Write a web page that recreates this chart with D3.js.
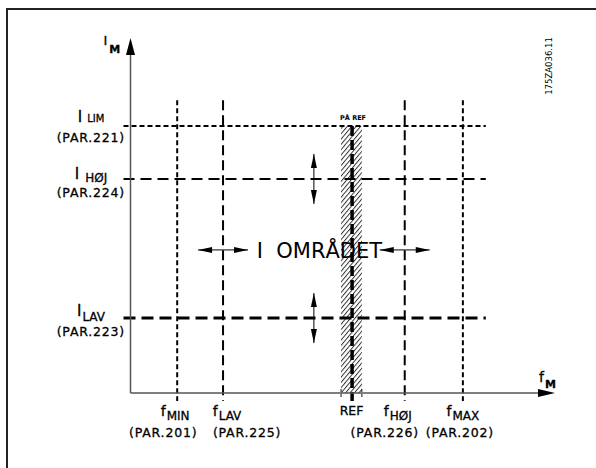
<!DOCTYPE html>
<html>
<head>
<meta charset="utf-8">
<script src="https://cdn.jsdelivr.net/npm/d3@7/dist/d3.min.js"></script>
<style>
  html, body { margin: 0; padding: 0; background: #fff; }
  svg { display: block; font-family: "DejaVu Sans", sans-serif; }
  svg text { fill: #000; stroke: #000; stroke-width: 0.3px; }
</style>
</head>
<body>
<div id="chart"></div>
<script>
// frequency limits along the f_M axis (0..100 of the axis length)
var freqKeys = ['MIN', 'LAV', 'REF', 'HØJ', 'MAX'];
var freqPars = ['(PAR.201)', '(PAR.225)', '', '(PAR.226)', '(PAR.202)'];
var freqValues = [11.0, 21.8, 52.2, 64.6, 78.3];
var refBand = [49.6, 54.5];

// current limits along the I_M axis (0..100 of the axis length)
var currentKeys = ['LIM', 'HØJ', 'LAV'];
var currentPars = ['(PAR.221)', '(PAR.224)', '(PAR.223)'];
var currentValues = [75.2, 60.3, 21.1];

var limitTop = 82.5;
var limitRight = 83.7;
var zoneLabel = 'I  OMRÅDET';
var zoneAt = [44.5, 40.3];
var drawingNo = '175ZA036.11';

(function(d3) {

  'use strict';

  var FreqStyle = {
    MIN: { dash: '5,3', width: 2, nudge: -2, parNudge: -14 },
    LAV: { dash: '10,5', width: 2, nudge: 4, parNudge: 24 },
    REF: { dash: '10,4', width: 3.5, nudge: 0, parNudge: 0 },
    'HØJ': { dash: '10,5', width: 2, nudge: -7, parNudge: -20 },
    MAX: { dash: '5,3', width: 2, nudge: 0, parNudge: -3 }
  };

  var CurrentStyle = {
    LIM: { dash: '5,3', width: 2, base: -4, sub: 0, subSize: 10, gap: 5, par: 16 },
    'HØJ': { dash: '11,6', width: 2, base: 0, sub: 3, subSize: 12, gap: 6, par: 18 },
    LAV: { dash: '12,6', width: 3, base: -2, sub: 5, subSize: 12, gap: 1, par: 18 }
  };

  var Chart = function(element) {
    this.element = element;
    this.width = 596;
    this.height = 468;
    this.svg = null;
    this.x = d3.scaleLinear().domain([0, 100]).range([130.5, 555]);
    this.y = d3.scaleLinear().domain([0, 100]).range([393, 38]);
  };

  Chart.prototype = {

    init: function() {
      this.setSvg();
      this.drawFrame();
      this.drawBand();
      this.drawFreqLines();
      this.drawCurrentLines();
      this.drawAxes();
      this.drawZone();
      this.drawLabels();
    },

    setSvg: function() {
      this.svg = d3.select(this.element)
        .append('svg')
        .attr('width', this.width)
        .attr('height', this.height);

      var pat = this.svg.append('defs').append('pattern')
        .attr('id', 'hatch')
        .attr('patternUnits', 'userSpaceOnUse')
        .attr('width', 3.4)
        .attr('height', 3.4)
        .attr('patternTransform', 'rotate(40)');
      pat.append('line')
        .attr('x1', 0.5).attr('y1', 0)
        .attr('x2', 0.5).attr('y2', 3.4)
        .style('stroke', '#222')
        .style('stroke-width', 0.9);
    },

    drawFrame: function() {
      this.svg.append('path')
        .attr('d', 'M7,' + this.height + 'V9H' + this.width)
        .style('fill', 'none')
        .style('stroke', '#222')
        .style('stroke-width', 2);
    },

    drawBand: function() {
      var x = this.x, y = this.y;
      this.svg.append('rect')
        .attr('x', x(refBand[0]))
        .attr('y', y(currentValues[0]))
        .attr('width', x(refBand[1]) - x(refBand[0]))
        .attr('height', y(0) - y(currentValues[0]))
        .style('fill', 'url(#hatch)');

      this.svg.selectAll('line.bandtick')
        .data(refBand)
        .enter()
        .append('line')
        .attr('class', 'bandtick')
        .attr('x1', function(d) { return x(d); })
        .attr('x2', function(d) { return x(d); })
        .attr('y1', y(0) - 4)
        .attr('y2', y(0) + 5)
        .style('stroke', '#111')
        .style('stroke-width', 1)
        .style('stroke-dasharray', '3,2');
    },

    drawFreqLines: function() {
      var x = this.x, y = this.y;
      this.svg.selectAll('line.freq')
        .data(freqValues)
        .enter()
        .append('line')
        .attr('class', 'freq')
        .attr('x1', function(d) { return x(d); })
        .attr('x2', function(d) { return x(d); })
        .attr('y1', function(d, i) {
          return freqKeys[i] === 'REF' ? y(currentValues[0]) : y(limitTop);
        })
        .attr('y2', y(0) + 8)
        .style('stroke', '#000')
        .style('stroke-width', function(d, i) { return FreqStyle[freqKeys[i]].width; })
        .style('stroke-dasharray', function(d, i) { return FreqStyle[freqKeys[i]].dash; });
    },

    drawCurrentLines: function() {
      var x = this.x, y = this.y;
      this.svg.selectAll('line.cur')
        .data(currentValues)
        .enter()
        .append('line')
        .attr('class', 'cur')
        .attr('x1', x(0) - 7)
        .attr('x2', x(limitRight))
        .attr('y1', function(d) { return y(d); })
        .attr('y2', function(d) { return y(d); })
        .style('stroke', '#000')
        .style('stroke-width', function(d, i) { return CurrentStyle[currentKeys[i]].width; })
        .style('stroke-dasharray', function(d, i) { return CurrentStyle[currentKeys[i]].dash; });
    },

    drawAxes: function() {
      var x = this.x, y = this.y, g = this.svg.append('g');
      g.append('line')
        .attr('x1', x(0)).attr('y1', y(0))
        .attr('x2', x(0)).attr('y2', y(100) + 14);
      g.append('line')
        .attr('x1', x(0)).attr('y1', y(0))
        .attr('x2', x(100) - 14).attr('y2', y(0));
      g.selectAll('line')
        .style('stroke', '#555')
        .style('stroke-width', 1.5);

      this.head(x(0), y(100), 0, 1, 17, 4.5);
      this.head(x(100), y(0), -1, 0, 17, 4);
    },

    // filled arrow head, tip at (tx, ty), pointing against (dx, dy)
    head: function(tx, ty, dx, dy, len, half) {
      var bx = tx + dx * len, by = ty + dy * len;
      var pts = [[tx, ty], [bx - dy * half, by + dx * half], [bx + dy * half, by - dx * half]];
      this.svg.append('polygon')
        .attr('points', pts.map(function(p) { return p.join(','); }).join(' '))
        .style('fill', '#000');
    },

    doubleArrow: function(x1, y1, x2, y2) {
      var dx = x2 - x1, dy = y2 - y1, n = Math.sqrt(dx * dx + dy * dy);
      dx /= n; dy /= n;
      this.svg.append('line')
        .attr('x1', x1).attr('y1', y1)
        .attr('x2', x2).attr('y2', y2)
        .style('stroke', '#000')
        .style('stroke-width', 1);
      this.head(x1, y1, dx, dy, 14, 3);
      this.head(x2, y2, -dx, -dy, 14, 3);
    },

    drawZone: function() {
      var x = this.x, y = this.y;
      var ay = y(zoneAt[1]);
      ['LAV', 'HØJ'].forEach(function(k) {
        var fx = x(freqValues[freqKeys.indexOf(k)]);
        this.doubleArrow(fx - 25, ay, fx + 25, ay);
      }.bind(this));

      ['HØJ', 'LAV'].forEach(function(k) {
        var cy = y(currentValues[currentKeys.indexOf(k)]);
        this.doubleArrow(x(43.2), cy - 25, x(43.2), cy + 25);
      }.bind(this));

      this.svg.append('text')
        .attr('x', x(zoneAt[0]))
        .attr('y', ay + 8)
        .attr('text-anchor', 'middle')
        .style('font-size', '21px')
        .style('stroke-width', '0px')
        .style('white-space', 'pre')
        .text(zoneLabel);
    },

    drawLabels: function() {
      var x = this.x, y = this.y, svg = this.svg;

      // current labels on the left
      currentKeys.forEach(function(k, i) {
        var s = CurrentStyle[k], ly = y(currentValues[i]);
        var t = svg.append('text')
          .attr('x', 91)
          .attr('y', ly + s.base)
          .attr('text-anchor', 'middle')
          .style('font-size', '15px');
        t.append('tspan').text('I');
        t.append('tspan')
          .attr('dx', s.gap)
          .attr('dy', s.sub)
          .style('font-size', s.subSize + 'px')
          .text(k);
        svg.append('text')
          .attr('x', 125)
          .attr('y', ly + s.par)
          .attr('text-anchor', 'end')
          .style('font-size', '12.5px')
          .style('letter-spacing', '0.8px')
          .text(currentPars[i]);
      });

      // frequency labels under the axis
      freqKeys.forEach(function(k, i) {
        var s = FreqStyle[k], fx = x(freqValues[i]);
        if (k === 'REF') {
          svg.append('text')
            .attr('x', fx - 0.5)
            .attr('y', 415)
            .attr('text-anchor', 'middle')
            .style('font-size', '12.5px')
            .text('REF');
          svg.append('text')
            .attr('x', fx + 1)
            .attr('y', 120)
            .attr('text-anchor', 'middle')
            .style('font-size', '6.5px')
            .style('font-weight', 'bold')
            .style('stroke-width', '0px')
            .text('PÅ REF');
          return;
        }
        var t = svg.append('text')
          .attr('x', fx + s.nudge)
          .attr('y', 416)
          .attr('text-anchor', 'middle')
          .style('font-size', '14px');
        t.append('tspan').text('f');
        t.append('tspan')
          .attr('dx', 1)
          .attr('dy', 4)
          .style('font-size', '12px')
          .text(k);
        svg.append('text')
          .attr('x', fx + s.parNudge)
          .attr('y', 437)
          .attr('text-anchor', 'middle')
          .style('font-size', '12.5px')
          .style('letter-spacing', '0.8px')
          .text(freqPars[i]);
      });

      // axis names
      var im = svg.append('text')
        .attr('x', x(0) - 27)
        .attr('y', 45)
        .style('font-size', '13px');
      im.append('tspan').text('I');
      im.append('tspan')
        .attr('dx', 2)
        .attr('dy', 8)
        .style('font-size', '11px')
        .style('font-weight', 'bold')
        .text('M');

      var fm = svg.append('text')
        .attr('x', x(100) - 16)
        .attr('y', 382)
        .style('font-size', '14px');
      fm.append('tspan').text('f');
      fm.append('tspan')
        .attr('dx', 1)
        .attr('dy', 6)
        .style('font-size', '11px')
        .style('font-weight', 'bold')
        .text('M');

      svg.append('text')
        .attr('transform', 'translate(552,66) rotate(-90)')
        .attr('text-anchor', 'middle')
        .style('font-size', '8.5px')
        .style('stroke-width', '0px')
        .text(drawingNo);
    }

  };

  var app = new Chart('#chart');
  app.init();

})(d3);
</script>
</body>
</html>
